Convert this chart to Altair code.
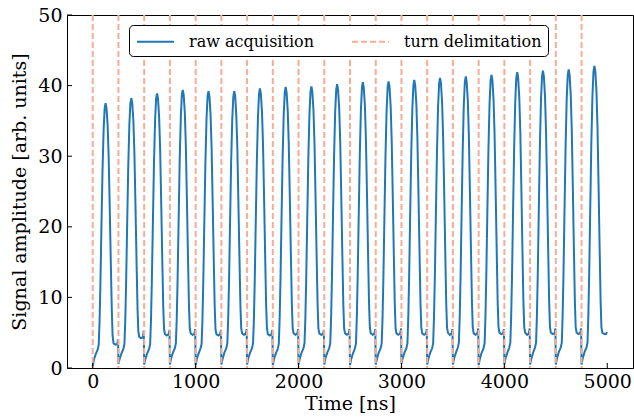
import altair as alt
import pandas as pd

# ---------------- data ----------------
SERIES = ["raw acquisition", "turn delimitation"]
TURN_STARTS = [0, 250, 500, 750, 1000, 1250, 1500, 1750, 2000, 2250,
               2500, 2750, 3000, 3250, 3500, 3750, 4000, 4250, 4500, 4750]
# sample times inside one turn (ns, relative to turn start)
REL_TIMES = [0, 12, 30, 48, 58, 66, 74, 84, 95, 106, 116, 125, 134, 145,
             155, 165, 175, 185, 193, 202, 220, 238, 246]
# signal amplitude of each turn at REL_TIMES
T00 = [0.3, 1.2, 2.0, 2.6, 3.3, 6.4, 11.4, 19.4, 27.9, 33.8, 36.8, 37.5, 36.8, 34.3, 29.8, 22.9, 15.4, 8.4, 4.6, 3.5, 3.3, 3.4, 4.1]
T01 = [0.6, 1.3, 2.1, 2.7, 3.4, 6.6, 11.7, 19.8, 28.4, 34.5, 37.5, 38.2, 37.5, 35.0, 30.4, 23.3, 15.7, 8.6, 5.2, 4.4, 4.2, 4.4, 5.3]
T02 = [0.5, 1.3, 2.1, 2.7, 3.4, 6.7, 11.9, 20.1, 28.9, 35.1, 38.2, 38.9, 38.2, 35.6, 31.0, 23.7, 16.0, 8.8, 5.5, 4.8, 4.6, 4.8, 5.4]
T03 = [0.5, 1.4, 2.2, 2.8, 3.5, 6.8, 12.0, 20.4, 29.3, 35.5, 38.7, 39.4, 38.7, 36.1, 31.4, 24.0, 16.2, 8.9, 5.6, 4.9, 4.7, 4.8, 5.5]
T04 = [0.4, 1.3, 2.1, 2.8, 3.4, 6.7, 12.0, 20.3, 29.1, 35.4, 38.5, 39.2, 38.5, 35.9, 31.2, 23.9, 16.1, 8.8, 5.5, 4.8, 4.6, 4.8, 5.4]
T05 = [0.5, 1.3, 2.2, 2.8, 3.5, 6.8, 11.9, 20.2, 29.2, 35.3, 38.4, 39.2, 38.6, 35.8, 31.3, 23.8, 16.2, 8.9, 5.6, 4.9, 4.7, 4.9, 5.5]
T06 = [0.5, 1.4, 2.2, 2.8, 3.5, 6.8, 12.1, 20.5, 29.4, 35.7, 38.8, 39.6, 38.8, 36.2, 31.5, 24.2, 16.3, 8.9, 5.6, 4.8, 4.6, 4.8, 5.4]
T07 = [0.4, 1.3, 2.1, 2.7, 3.4, 6.8, 12.1, 20.6, 29.6, 35.9, 39.0, 39.8, 39.0, 36.4, 31.7, 24.3, 16.4, 9.0, 5.6, 4.9, 4.7, 4.9, 5.5]
T08 = [0.5, 1.3, 2.2, 2.8, 3.5, 6.9, 12.2, 20.6, 29.6, 36.0, 39.1, 39.9, 39.1, 36.5, 31.8, 24.3, 16.4, 9.0, 5.6, 4.9, 4.7, 4.8, 5.4]
T09 = [0.5, 1.4, 2.2, 2.8, 3.5, 6.9, 12.3, 20.8, 29.9, 36.3, 39.4, 40.2, 39.4, 36.8, 32.0, 24.5, 16.5, 9.0, 5.6, 4.9, 4.7, 4.9, 5.5]
T10 = [0.4, 1.3, 2.1, 2.8, 3.5, 7.0, 12.4, 20.9, 30.1, 36.5, 39.7, 40.5, 39.7, 37.1, 32.2, 24.7, 16.6, 9.1, 5.7, 4.9, 4.7, 4.9, 5.5]
T11 = [0.5, 1.3, 2.2, 2.8, 3.5, 7.0, 12.4, 21.0, 30.2, 36.6, 39.8, 40.6, 39.8, 37.1, 32.3, 24.8, 16.7, 9.1, 5.6, 4.9, 4.7, 4.9, 5.6]
T12 = [0.6, 1.4, 2.2, 2.8, 3.5, 7.0, 12.4, 21.1, 30.3, 36.8, 40.0, 40.8, 40.0, 37.3, 32.5, 24.9, 16.8, 9.2, 5.7, 4.9, 4.7, 4.9, 5.5]
T13 = [0.5, 1.3, 2.2, 2.8, 3.5, 7.1, 12.5, 21.2, 30.5, 37.1, 40.3, 41.1, 40.3, 37.6, 32.7, 25.1, 16.9, 9.2, 5.7, 5.0, 4.7, 4.9, 5.5]
T14 = [0.5, 1.4, 2.2, 2.9, 3.6, 7.1, 12.6, 21.4, 30.7, 37.3, 40.5, 41.3, 40.5, 37.8, 32.9, 25.2, 17.0, 9.3, 5.7, 4.9, 4.7, 4.9, 5.6]
T15 = [0.4, 1.3, 2.2, 2.8, 3.5, 7.1, 12.7, 21.5, 30.8, 37.4, 40.7, 41.5, 40.7, 38.0, 33.0, 25.3, 17.1, 9.3, 5.8, 5.0, 4.8, 4.9, 5.5]
T16 = [0.5, 1.4, 2.2, 2.9, 3.6, 7.2, 12.8, 21.7, 31.1, 37.8, 41.1, 41.9, 41.1, 38.3, 33.4, 25.6, 17.2, 9.4, 5.8, 5.0, 4.7, 4.9, 5.6]
T17 = [0.5, 1.3, 2.2, 2.9, 3.6, 7.2, 12.8, 21.8, 31.3, 38.0, 41.3, 42.1, 41.3, 38.5, 33.5, 25.7, 17.3, 9.5, 5.8, 5.0, 4.8, 4.9, 5.6]
T18 = [0.5, 1.4, 2.3, 2.9, 3.6, 7.3, 12.9, 21.9, 31.4, 38.2, 41.5, 42.3, 41.5, 38.7, 33.7, 25.8, 17.4, 9.5, 5.8, 5.0, 4.8, 5.0, 5.6]
T19 = [0.5, 1.4, 2.3, 2.9, 3.6, 7.4, 13.1, 22.1, 31.8, 38.6, 42.0, 42.8, 42.0, 39.2, 34.1, 26.1, 17.6, 9.6, 5.8, 5.0, 4.8, 4.8, 5.1]
TURN_VALUES = [T00, T01, T02, T03, T04, T05, T06, T07, T08, T09,
               T10, T11, T12, T13, T14, T15, T16, T17, T18, T19]

X_TICKS = [0, 1000, 2000, 3000, 4000, 5000]
Y_TICKS = [0, 10, 20, 30, 40, 50]

# ---------------- tables ----------------
rows = []
for start, vals in zip(TURN_STARTS, TURN_VALUES):
    for r, v in zip(REL_TIMES, vals):
        rows.append({"t": start + r, "v": v, "series": SERIES[0]})
sig = pd.DataFrame(rows)
delim = pd.DataFrame({"t": TURN_STARTS, "series": [SERIES[1]] * len(TURN_STARTS)})
xt = pd.DataFrame({"t": X_TICKS})
yt = pd.DataFrame({"v": Y_TICKS})

FONT = "DejaVu Serif"
LEGEND_FONT = "'DejaVu Serif', serif"
W, H = 566, 353

xscale = alt.Scale(domain=[-250, 5250], nice=False, zero=False)
yscale = alt.Scale(domain=[0, 50], nice=False)

legend = alt.Legend(
    title=None, orient="none", legendX=62, legendY=10,
    direction="horizontal", columns=2, symbolType="M-2,0H2",
    symbolSize=342, symbolStrokeWidth=2, symbolOffset=10,
    labelFont=LEGEND_FONT, labelFontSize=16, labelFontWeight="normal",
    labelColor="black", labelLimit=400, columnPadding=34, labelOffset=23,
    strokeColor="black", fillColor="white", padding=6, cornerRadius=4,
)
color = alt.Color("series:N", scale=alt.Scale(domain=SERIES, range=["#1f77b4", "#F8AC94"]), legend=legend)
dash = alt.StrokeDash("series:N", scale=alt.Scale(domain=SERIES, range=[[1, 0], [6, 3]]), legend=legend)

xaxis = alt.Axis(values=X_TICKS, format="d", title="Time [ns]", tickSize=0, domain=False, grid=False,
                 labelFont=FONT, labelFontSize=19, labelColor="black", labelPadding=4,
                 titleFont=FONT, titleFontSize=19, titleFontWeight="normal", titleColor="black",
                 titlePadding=3)
yaxis = alt.Axis(values=Y_TICKS, title="Signal amplitude [arb. units]", tickSize=0, domain=False, grid=False,
                 labelFont=FONT, labelFontSize=19, labelColor="black", labelPadding=5,
                 titleFont=FONT, titleFontSize=19, titleFontWeight="normal", titleColor="black",
                 titlePadding=8)

line = alt.Chart(sig).mark_line(strokeWidth=2, clip=True).encode(
    x=alt.X("t:Q", scale=xscale, axis=xaxis),
    y=alt.Y("v:Q", scale=yscale, axis=yaxis),
    color=color, strokeDash=dash,
)
rules = alt.Chart(delim).mark_rule(strokeWidth=2).encode(
    x=alt.X("t:Q", scale=xscale, axis=xaxis),
    color=color, strokeDash=dash,
)
xticks = alt.Chart(xt).mark_rule(color="black", strokeWidth=1).encode(
    x=alt.X("t:Q", scale=xscale, axis=xaxis), y=alt.value(H), y2=alt.value(H - 5)
)
yticks = alt.Chart(yt).mark_rule(color="black", strokeWidth=1).encode(
    y=alt.Y("v:Q", scale=yscale, axis=yaxis), x=alt.value(0), x2=alt.value(5)
)

chart = alt.layer(line, rules, xticks, yticks).properties(
    width=W, height=H,
    autosize=alt.AutoSizeParams(type="none"),
    padding={"left": 67, "top": 15, "right": 1, "bottom": 50},
    background="white",
).configure(
    font=FONT,
).configure_view(
    stroke="black", strokeWidth=1
).configure_legend(
    labelFont=LEGEND_FONT, labelFontSize=16, labelColor="black"
)

chart.save("out.html", embed_options={"renderer": "svg", "actions": False})
